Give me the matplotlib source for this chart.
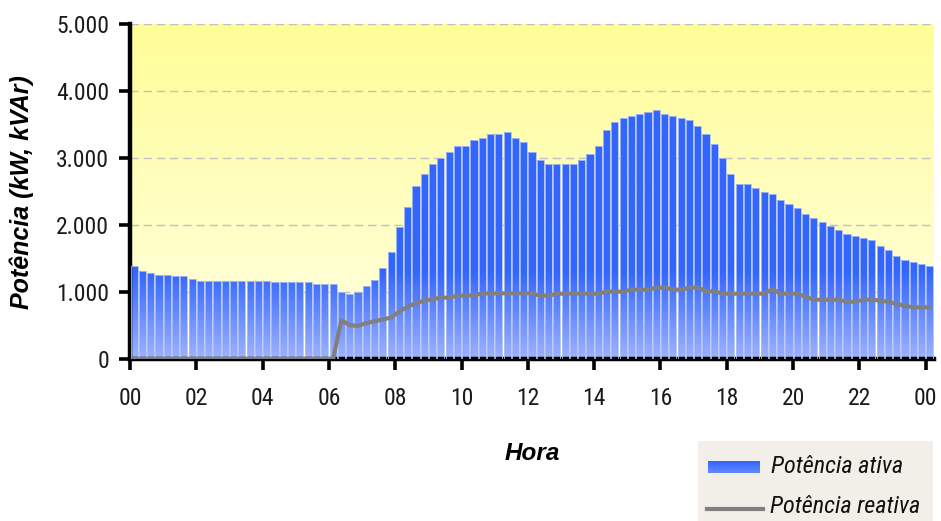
import numpy as np
import matplotlib
matplotlib.use('Agg')
from matplotlib import pyplot as plt
from matplotlib import font_manager
from matplotlib.path import Path
from matplotlib.patches import PathPatch

# 15-minute readings, 00:00 .. 24:00
ativa = [1385, 1320, 1290, 1260, 1260, 1235, 1235, 1200,
         1170, 1170, 1170, 1170, 1170, 1170, 1170, 1170,
         1170, 1145, 1145, 1145, 1145, 1145, 1115, 1115,
         1115, 995, 965, 995, 1085, 1175, 1355, 1590,
         1975, 2275, 2575, 2755, 2905, 2995, 3085, 3175,
         3175, 3265, 3295, 3355, 3355, 3385, 3295, 3235,
         3085, 2965, 2905, 2905, 2905, 2905, 2965, 3055,
         3175, 3415, 3530, 3590, 3620, 3650, 3680, 3710,
         3650, 3620, 3590, 3560, 3475, 3355, 3205, 2995,
         2755, 2605, 2605, 2550, 2490, 2460, 2370, 2310,
         2250, 2160, 2100, 2040, 1980, 1920, 1860, 1830,
         1800, 1770, 1680, 1620, 1535, 1475, 1445, 1415,
         1385]
reativa = [0] * 25 + [
    580, 505, 495, 535, 565, 590, 620,
    710, 780, 835, 870, 895, 915, 915, 945,
    945, 950, 980, 980, 980, 980, 980, 980,
    980, 945, 945, 975, 975, 975, 975, 975,
    975, 1005, 1005, 1005, 1035, 1035, 1035, 1065,
    1065, 1035, 1035, 1065, 1065, 1010, 1010, 975,
    975, 975, 975, 975, 975, 1040, 975, 975,
    975, 930, 885, 885, 885, 885, 855, 855,
    885, 885, 870, 855, 820, 795, 771, 771,
    771]
hora_ticks = ['00', '02', '04', '06', '08', '10', '12',
              '14', '16', '18', '20', '22', '00']
y_ticks = [0, 1000, 2000, 3000, 4000, 5000]

names = {f.name for f in font_manager.fontManager.ttflist}
narrow = 'DejaVu Sans'
for cand in ['Liberation Sans Narrow', 'Arial Narrow', 'Roboto Condensed',
             'Archivo Narrow', 'PT Sans Narrow']:
    if cand in names:
        narrow = cand
        break
arial = 'Liberation Sans'

W, H = 941, 521
fig = plt.figure(figsize=(W / 100, H / 100), dpi=100)
ax = fig.add_axes([130 / W, 1 - 359 / H, 804 / W, 335 / H])

n = len(ativa)
x = np.arange(n) + 0.5

# yellow background fading downwards
top_c = np.array([255, 253, 150]) / 255
bot_c = np.array([255, 255, 228]) / 255
t = np.linspace(0, 1, 256)[:, None]
bg = (bot_c + (top_c - bot_c) * t)[:, None, :]
ax.imshow(bg, extent=(0, n, 0, 5000), origin='lower', aspect='auto', zorder=0)

# bars: outline only, the fill comes from a clipped gradient image
bars = ax.bar(x, ativa, width=0.86, facecolor='none', edgecolor='#AFC0EC',
              linewidth=0.6, zorder=3)
paths = [b.get_path().transformed(b.get_patch_transform()) for b in bars]
clip = PathPatch(Path.make_compound_path(*paths), transform=ax.transData,
                 facecolor='none', edgecolor='none')
ax.add_patch(clip)
dark = np.array([51, 102, 255]) / 255
light = np.array([158, 178, 255]) / 255
v = np.linspace(0, 5000, 512)
f = np.clip(v / 1300, 0, 1)[:, None]
grad = (light + (dark - light) * f)[:, None, :]
im = ax.imshow(grad, extent=(0, n, 0, 5000), origin='lower', aspect='auto', zorder=2)
im.set_clip_path(clip)

ax.plot(x, reativa, color='#808080', lw=3, zorder=4, solid_joinstyle='round')

ax.set_xlim(0, n)
ax.set_ylim(0, 5000)
ax.set_axisbelow(True)
ax.yaxis.grid(True, color='#C0C0C0', linestyle=(0, (6, 3.5)), linewidth=1)

for s in ['top', 'right']:
    ax.spines[s].set_visible(False)
for s in ['left', 'bottom']:
    ax.spines[s].set_linewidth(3.2)
    ax.spines[s].set_color('black')

ax.set_xticks(np.arange(0, 97, 8))
ax.set_xticklabels(hora_ticks)
ax.set_yticks(y_ticks)
ax.set_yticklabels([f'{y:,}'.replace(',', '.') for y in y_ticks])
ax.tick_params(axis='both', direction='out', length=8, width=2.6, color='black',
               labelsize=17, labelcolor='#1A1A1A')
ax.tick_params(axis='x', pad=12)
ax.tick_params(axis='y', pad=7)
for lab in ax.get_xticklabels() + ax.get_yticklabels():
    lab.set_fontfamily(narrow)

fig.text(22 / W, 1 - 192 / H, 'Potência (kW, kVAr)', rotation=90, ha='center',
         va='center', family=arial, weight='bold', style='italic', fontsize=18)
fig.text(532 / W, 1 - 454 / H, 'Hora', ha='center', va='center', family=arial,
         weight='bold', style='italic', fontsize=17.5)

# legend box
lg = fig.add_axes([698 / W, 0, 235 / W, 80 / H])
lg.set_facecolor('#F2EFE8')
for s in lg.spines.values():
    s.set_visible(False)
lg.set_xticks([])
lg.set_yticks([])
pg = (light + (dark - light) * np.linspace(1, 0.55, 32)[:, None])[:, None, :]
lg.imshow(pg, extent=(10, 62, 31.7, 19.7), aspect='auto')
lg.plot([9, 65], [67.7, 67.7], color='#808080', lw=3)
lg.text(73, 25.5, 'Potência ativa', va='center', ha='left', family=narrow,
        style='italic', fontsize=17.5, color='#111111')
lg.text(72, 65.5, 'Potência reativa', va='center', ha='left', family=narrow,
        style='italic', fontsize=17.5, color='#111111')
lg.set_xlim(0, 235)
lg.set_ylim(80, 0)

fig.savefig('out.png', dpi=100)
